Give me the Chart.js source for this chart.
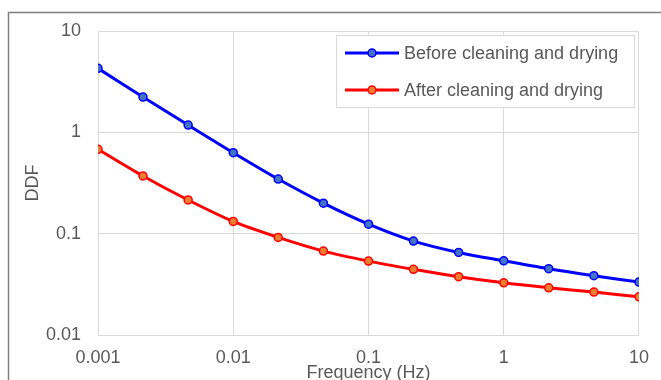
<!DOCTYPE html>
<html>
<head>
<meta charset="utf-8">
<script src="https://cdn.jsdelivr.net/npm/chart.js@4/dist/chart.umd.min.js"></script>
<style>
  html, body { margin: 0; padding: 0; background: #fff; }
  #wrap { width: 661px; height: 380px; position: relative; }
</style>
</head>
<body>
<div id="wrap"><canvas id="chart"></canvas></div>
<script>
// frequency points (Hz), three per decade
const frequencies = [0.001, 0.00215, 0.00464, 0.01, 0.0215, 0.0464, 0.1, 0.215, 0.464, 1, 2.15, 4.64, 10];
const ddfBefore = [4.28, 2.23, 1.18, 0.63, 0.346, 0.20, 0.124, 0.0845, 0.0653, 0.054, 0.0451, 0.0385, 0.0333];
const ddfAfter = [0.68, 0.371, 0.215, 0.132, 0.0918, 0.0673, 0.0536, 0.0445, 0.0376, 0.0327, 0.0292, 0.0265, 0.0238];
const xTicks = [0.001, 0.01, 0.1, 1, 10];
const yTicks = [0.01, 0.1, 1, 10];
const seriesLabels = ['Before cleaning and drying', 'After cleaning and drying'];

const FONT = "'Liberation Sans', Arial, sans-serif";
const TEXT = '#595959';
const GRID = '#d9d9d9';

function toPoints(ys) {
    return frequencies.map((f, i) => ({ x: f, y: ys[i] }));
}

function fmt(v) {
    // plain decimal labels like the original
    return String(Number(v.toPrecision(1)));
}

// outer frame of the figure (cut off at the bottom)
const framePlugin = {
    id: 'frame',
    beforeDraw(chart) {
        const ctx = chart.ctx;
        ctx.save();
        ctx.fillStyle = '#fff';
        ctx.fillRect(0, 0, chart.width, chart.height);
        ctx.strokeStyle = '#808080';
        ctx.lineWidth = 1.5;
        ctx.strokeRect(8.5, 12.5, chart.width + 10, chart.height + 10);
        ctx.restore();
    }
};

// Excel style legend: line with a marker in the middle, boxed
const boxLegend = {
    id: 'boxLegend',
    afterDraw(chart) {
        const ctx = chart.ctx;
        const x0 = 336, y0 = 35, w = 298, h = 72;
        ctx.save();
        ctx.fillStyle = '#fff';
        ctx.fillRect(x0, y0, w, h);
        ctx.strokeStyle = GRID;
        ctx.lineWidth = 1;
        ctx.strokeRect(x0 + 0.5, y0 + 0.5, w, h);
        chart.data.datasets.forEach((ds, i) => {
            const y = 53 + i * 37;
            ctx.strokeStyle = ds.borderColor;
            ctx.lineWidth = 3;
            ctx.beginPath();
            ctx.moveTo(345, y);
            ctx.lineTo(399, y);
            ctx.stroke();
            ctx.beginPath();
            ctx.arc(372, y, 4, 0, Math.PI * 2);
            ctx.fillStyle = ds.pointBackgroundColor;
            ctx.fill();
            ctx.lineWidth = 1.5;
            ctx.strokeStyle = ds.pointBorderColor;
            ctx.stroke();
            ctx.fillStyle = TEXT;
            ctx.font = '18px ' + FONT;
            ctx.textBaseline = 'middle';
            ctx.fillText(ds.label, 404, y + 1);
        });
        ctx.restore();
    }
};

const datasets = [
    {
        label: seriesLabels[0],
        data: toPoints(ddfBefore),
        borderColor: '#0000ff',
        borderWidth: 3,
        pointRadius: 4,
        pointBackgroundColor: '#4472c4',
        pointBorderColor: '#0000ff',
        pointBorderWidth: 1.5,
        tension: 0.3
    },
    {
        label: seriesLabels[1],
        data: toPoints(ddfAfter),
        borderColor: '#ff0000',
        borderWidth: 3,
        pointRadius: 4,
        pointBackgroundColor: '#ed7d31',
        pointBorderColor: '#ff0000',
        pointBorderWidth: 1.5,
        tension: 0.3
    }
];

new Chart(document.getElementById('chart'), {
    type: 'line',
    data: { datasets: datasets },
    options: {
        responsive: true,
        maintainAspectRatio: false,
        animation: false,
        layout: { padding: { left: 0, top: 31, right: 22, bottom: 0 } },
        plugins: {
            legend: { display: false },
            tooltip: { enabled: false }
        },
        scales: {
            x: {
                type: 'logarithmic',
                min: 0.001,
                max: 10,
                afterBuildTicks(scale) {
                    scale.ticks = xTicks.map(v => ({ value: v }));
                },
                afterFit(scale) { scale.height = 45; },
                grid: { color: GRID, lineWidth: 1, drawTicks: false },
                border: { color: GRID },
                ticks: {
                    padding: 12,
                    color: TEXT,
                    font: { family: FONT, size: 18 },
                    maxRotation: 0,
                    callback: v => fmt(v)
                },
                title: {
                    display: true,
                    text: 'Frequency (Hz)',
                    color: TEXT,
                    font: { family: FONT, size: 18 },
                    padding: { top: 0, bottom: -4 }
                }
            },
            y: {
                type: 'logarithmic',
                min: 0.01,
                max: 10,
                afterBuildTicks(scale) {
                    scale.ticks = yTicks.map(v => ({ value: v }));
                },
                afterFit(scale) { scale.width = 98; },
                grid: { color: GRID, lineWidth: 1, drawTicks: false },
                border: { color: GRID },
                ticks: {
                    padding: 17,
                    color: TEXT,
                    font: { family: FONT, size: 18 },
                    callback: v => fmt(v)
                },
                title: {
                    display: true,
                    text: 'DDF',
                    color: TEXT,
                    font: { family: FONT, size: 18 },
                    padding: { top: 22, bottom: 0 }
                }
            }
        }
    },
    plugins: [framePlugin, boxLegend]
});
</script>
</body>
</html>
